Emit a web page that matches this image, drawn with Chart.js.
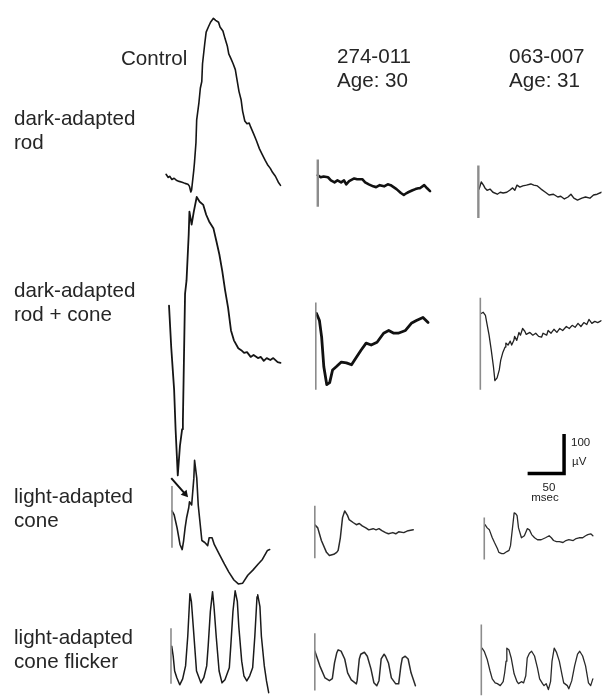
<!DOCTYPE html>
<html><head><meta charset="utf-8">
<script src="https://cdn.jsdelivr.net/npm/chart.js@4/dist/chart.umd.min.js"></script>
<style>
html,body{margin:0;padding:0;background:#fff;}
#wrap{position:relative;width:606px;height:700px;overflow:hidden;background:#fff;}
canvas{position:absolute;left:0;top:0;}
.lbl{position:absolute;font-family:"Liberation Sans",Arial,Helvetica,sans-serif;font-size:20.6px;line-height:24px;color:#262626;white-space:nowrap;}
.sm{position:absolute;font-family:"Liberation Sans",Arial,Helvetica,sans-serif;font-size:11.5px;line-height:13px;color:#222;white-space:nowrap;}
</style></head><body>
<div id="wrap"><canvas id="c" width="606" height="700"></canvas></div>
<script>
// ---------- text ----------
const columnTitles = ["Control", "274-011", "063-007"];
const columnAges = ["", "Age: 30", "Age: 31"];
const rowLabels = [["dark-adapted", "rod"], ["dark-adapted", "rod + cone"], ["light-adapted", "cone"], ["light-adapted", "cone flicker"]];
const scaleBarUV = 100;   // µV
const scaleBarMS = 50;    // msec
const scaleUnits = ["\u00b5V", "msec"];

// ---------- traces: time (ms from trace start / flash) and amplitude (µV from start) ----------
// Control
const ctrlRodT = [0,3,5,8,11,14,18,22,26,30,32,34,35,38,39,41,42,45,47,49,50,53,55,58,61,65,68,72,74,78,81,84,86,89,92,95,97,100,103,105,108,111,114,116,120,124,128,132,136,139,143,146,150,154,157];
const ctrlRodV = [0,-8,-5,-13,-10,-15,-18,-20,-23,-25,-30,-45,-40,10,30,80,138,180,218,235,280,330,360,373,385,395,390,385,373,363,343,325,305,293,280,265,243,210,188,160,135,128,130,120,103,85,65,50,35,25,15,5,-5,-20,-28];
const ctrlRodConeT = [0,3,7,9,12,15,18,19,20,22,24,27,28,31,34,38,42,47,51,55,61,65,69,73,77,81,85,89,95,99,103,107,112,116,122,126,130,134,139,143,149,153];
const ctrlRodConeV = [0,-105,-213,-313,-430,-355,-313,-295,-188,30,63,180,238,205,238,275,263,255,230,213,195,163,130,88,38,-5,-63,-88,-108,-113,-120,-118,-130,-125,-133,-130,-140,-133,-138,-133,-143,-145];
const ctrlConeT = [0,3,7,11,14,16,18,20,23,24,27,30,31,34,36,41,45,49,51,55,58,65,72,78,85,91,97,104,111,118,124,131,134];
const ctrlConeV = [0,-10,-43,-85,-98,-75,-43,-18,8,23,15,83,128,83,15,-75,-80,-88,-68,-68,-85,-110,-135,-155,-175,-185,-183,-163,-150,-135,-123,-100,-98];
const ctrlFlickerT = [1,3,5,8,12,16,20,23,26,28,31,35,41,45,49,51,54,57,59,62,66,70,74,80,82,85,88,91,93,97,100,104,108,112,115,118,119,122,124,128,131,134];
const ctrlFlickerV = [0,-25,-63,-80,-98,-83,-50,25,133,113,38,-63,-93,-80,-50,0,88,138,100,25,-63,-93,-85,-55,0,88,140,113,50,-38,-75,-88,-75,-55,25,125,130,100,25,-50,-88,-118];
// Patient 274-011
const p1RodT = [0,4,8,14,18,23,27,32,36,39,43,50,54,61,65,70,76,80,85,91,96,100,104,108,114,118,122,124,130,134,138,140,146,150,154];
const p1RodV = [0,-5,-3,-5,-13,-18,-13,-18,-13,-23,-15,-8,-10,-10,-18,-23,-28,-30,-25,-28,-23,-25,-30,-35,-45,-50,-45,-43,-38,-35,-33,-33,-25,-33,-40];
const p1RodConeT = [1,5,8,11,15,19,23,28,35,42,49,55,62,69,76,84,93,100,107,113,123,131,138,147,154];
const p1RodConeV = [0,-18,-60,-135,-180,-175,-143,-135,-123,-125,-130,-113,-93,-75,-80,-73,-50,-43,-50,-50,-43,-25,-18,-10,-23];
const p1ConeT = [0,4,9,16,20,26,30,32,35,38,41,45,47,53,57,61,65,70,74,80,84,88,92,97,101,107,111,115,122,128,135];
const p1ConeV = [0,-8,-40,-70,-78,-75,-70,-65,-33,18,35,23,13,5,0,3,-3,-8,-13,-10,-13,-10,-15,-20,-23,-20,-23,-18,-20,-15,-13];
const p1FlickerT = [0,7,14,20,24,27,30,32,36,41,45,50,57,58,61,63,68,72,77,81,85,88,91,95,97,101,105,111,115,118,120,124,128,132,138];
const p1FlickerV = [0,-38,-68,-75,-70,-30,-5,3,0,-20,-55,-73,-83,-75,-20,-8,-3,-13,-45,-80,-88,-75,-20,-8,-13,-30,-68,-83,-83,-38,-18,-13,-20,-55,-88];
// Patient 063-007
const p2RodT = [1,4,7,9,12,16,20,26,30,34,39,43,47,50,53,57,61,66,72,76,81,86,92,97,103,109,113,118,123,127,131,136,142,147,153,158,163,169];
const p2RodV = [0,18,10,3,-3,0,-8,-13,-8,-10,-8,-3,3,-3,10,5,8,10,13,10,8,0,-8,-15,-13,-20,-18,-25,-20,-13,-23,-28,-23,-20,-23,-15,-13,-8];
const p2RodConeT = [1,4,7,9,12,15,18,20,23,26,28,31,34,35,38,41,43,46,47,50,53,55,58,61,63,68,72,76,80,84,86,91,93,97,101,105,109,113,118,122,126,130,134,138,142,146,149,153,157,161,166];
const p2RodConeV = [0,3,-5,-25,-55,-93,-135,-170,-163,-143,-118,-98,-85,-75,-80,-70,-80,-68,-58,-68,-48,-55,-38,-45,-53,-48,-55,-50,-58,-60,-50,-55,-43,-50,-40,-48,-38,-43,-33,-38,-30,-35,-25,-33,-23,-28,-15,-25,-20,-23,-18];
const p2ConeT = [1,4,7,11,14,18,20,24,27,31,34,36,38,41,43,45,47,51,55,59,62,65,69,73,78,84,89,92,95,99,103,108,112,116,122,126,130,135,139,142,146,149];
const p2ConeV = [0,-8,-13,-33,-45,-60,-70,-73,-73,-68,-65,-53,-20,30,28,23,-8,-33,-28,-10,-13,-25,-33,-38,-38,-33,-28,-33,-40,-43,-43,-45,-40,-38,-40,-35,-33,-33,-28,-25,-23,-28];
const p2FlickerT = [1,4,8,12,15,19,22,26,30,32,34,35,38,41,45,49,51,55,58,61,63,66,69,73,77,80,84,86,89,92,95,97,100,103,107,111,113,118,120,124,128,132,135,139,143,147,150,153];
const p2FlickerV = [0,-8,-28,-58,-78,-88,-90,-95,-85,-63,-33,0,-5,-25,-65,-85,-90,-85,-88,-70,-25,-13,-8,-20,-50,-78,-90,-95,-90,-105,-85,-33,0,-10,-33,-70,-88,-95,-103,-83,-45,-15,-8,-20,-45,-88,-95,-78];
// stimulus marker extent (µV) per panel
const stimPanels  = ["ctrlCone","ctrlFlicker","p1Rod","p1RodCone","p1Cone","p1Flicker","p2Rod","p2RodCone","p2Cone","p2Flicker"];
const stimTopV    = [63, 45, 40, 28, 48, 45, 60, 40, 18, 60];
const stimBottomV = [-93, -95, -80, -193, -85, -100, -73, -193, -88, -120];
// arrow on control cone (ms, µV)
const arrowT = [-1, 18];
const arrowV = [83, 43];

// ---------- layout (pixels) ----------
const PX_PER_MS = 37 / scaleBarMS;
const PX_PER_UV = 40 / scaleBarUV;
const W = 606, H = 700;
const origin = {
  ctrlRod:[164,172], ctrlRodCone:[167,305], ctrlCone:[170,513], ctrlFlicker:[169,650],
  p1Rod:[318,173], p1RodCone:[316,313], p1Cone:[315,527], p1Flicker:[315,655],
  p2Rod:[481,187], p2RodCone:[483,313], p2Cone:[487,527], p2Flicker:[484,652],
  scaleBar:[568,475]
};
function pts(panel, t, v) {
  const ox = origin[panel][0] / PX_PER_MS, oy = -origin[panel][1] / PX_PER_UV;
  return t.map((tt, i) => ({x: ox + tt, y: oy + v[i]}));
}
function trace(panel, t, v, color, width) {
  return {data: pts(panel, t, v), showLine: true, borderColor: color, borderWidth: width,
          pointRadius: 0, tension: 0, fill: false, borderJoinStyle: 'round', borderCapStyle: 'round'};
}
const datasets = [];
stimPanels.forEach((p, i) => {
  const thick = (p === 'p1Rod' || p === 'p2Rod') ? 2.4 : 1.6;
  datasets.push({data: pts(p, [0, 0], [stimTopV[i], stimBottomV[i]]), showLine: true,
    borderColor: '#8c8c8c', borderWidth: thick, pointRadius: 0});
});
datasets.push(trace('ctrlRod', ctrlRodT, ctrlRodV, '#151515', 1.6));
datasets.push(trace('ctrlRodCone', ctrlRodConeT, ctrlRodConeV, '#151515', 1.8));
datasets.push(trace('ctrlCone', ctrlConeT, ctrlConeV, '#1a1a1a', 1.6));
datasets.push(trace('ctrlFlicker', ctrlFlickerT, ctrlFlickerV, '#1a1a1a', 1.5));
datasets.push(trace('p1Rod', p1RodT, p1RodV, '#111', 2.6));
datasets.push(trace('p1RodCone', p1RodConeT, p1RodConeV, '#111', 2.8));
datasets.push(trace('p1Cone', p1ConeT, p1ConeV, '#2a2a2a', 1.5));
datasets.push(trace('p1Flicker', p1FlickerT, p1FlickerV, '#2a2a2a', 1.5));
datasets.push(trace('p2Rod', p2RodT, p2RodV, '#222', 1.4));
datasets.push(trace('p2RodCone', p2RodConeT, p2RodConeV, '#222', 1.3));
datasets.push(trace('p2Cone', p2ConeT, p2ConeV, '#2a2a2a', 1.3));
datasets.push(trace('p2Flicker', p2FlickerT, p2FlickerV, '#2a2a2a', 1.3));
// scale bar: 50 ms horizontal, 100 µV vertical
datasets.push({data: pts('scaleBar', [-scaleBarMS, 0, 0], [0, 0, scaleBarUV]), showLine: true,
  borderColor: '#000', borderWidth: 3.5, pointRadius: 0, borderJoinStyle: 'miter'});
// arrow
datasets.push({data: pts('ctrlCone', arrowT, arrowV), showLine: true, borderColor: '#111', borderWidth: 2,
  pointRadius: [0, 4.5], pointStyle: 'triangle', rotation: 139, pointBackgroundColor: '#111', pointBorderWidth: 0});

new Chart(document.getElementById('c'), {
  type: 'scatter',
  data: {datasets},
  options: {
    responsive: false, animation: false, events: [],
    layout: {padding: 0},
    plugins: {legend: {display: false}, tooltip: {enabled: false}},
    scales: {
      x: {type: 'linear', display: false, min: 0, max: W / PX_PER_MS},
      y: {type: 'linear', display: false, min: -H / PX_PER_UV, max: 0}
    }
  }
});

// ---------- labels ----------
const wrap = document.getElementById('wrap');
function addLabel(cls, text, left, top, center) {
  const d = document.createElement('div');
  d.className = cls; d.textContent = text;
  d.style.left = left + 'px'; d.style.top = top + 'px';
  if (center) d.style.transform = 'translateX(-50%)';
  wrap.appendChild(d);
}
addLabel('lbl', columnTitles[0], 121, 46);
addLabel('lbl', columnTitles[1], 337, 44);
addLabel('lbl', columnAges[1], 337, 68);
addLabel('lbl', columnTitles[2], 509, 44);
addLabel('lbl', columnAges[2], 509, 68);
const rowTops = [106, 278, 484, 625];
rowLabels.forEach((r, i) => { addLabel('lbl', r[0], 14, rowTops[i]); addLabel('lbl', r[1], 14, rowTops[i] + 24); });
addLabel('sm', String(scaleBarUV), 571, 436);
addLabel('sm', scaleUnits[0], 572, 455);
addLabel('sm', String(scaleBarMS), 549, 481, true);
addLabel('sm', scaleUnits[1], 545, 491, true);
</script>
</body></html>
